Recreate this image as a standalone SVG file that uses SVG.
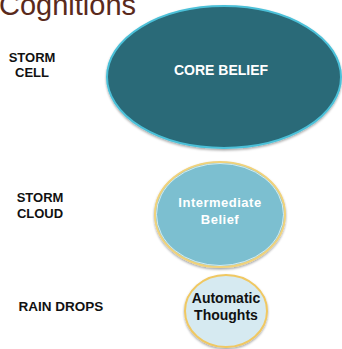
<svg xmlns="http://www.w3.org/2000/svg" width="342" height="349" viewBox="0 0 342 349">
  <style>
    .title { font-family: "Liberation Sans", Arial, sans-serif; font-size: 29px; fill: #5a2a1c; }
    .side { font-family: "Liberation Sans", Arial, sans-serif; font-size: 13px; font-weight: bold; fill: #111; text-anchor: middle; }
    .lbl { font-family: "Liberation Sans", Arial, sans-serif; font-weight: bold; text-anchor: middle; }
  </style>
  <defs>
    <filter id="shadow" x="-10%" y="-10%" width="120%" height="130%">
      <feDropShadow dx="0" dy="1.5" stdDeviation="1.2" flood-color="#000" flood-opacity="0.35"/>
    </filter>
  </defs>

  <rect width="342" height="349" fill="#ffffff"/>

  <!-- heading, running off the top edge -->
  <text class="title" x="-1" y="15">Cognitions</text>

  <!-- level captions -->
  <g id="captions">
    <text class="side" x="32" y="62">STORM</text>
    <text class="side" x="32" y="77">CELL</text>
    <text class="side" x="40" y="202">STORM</text>
    <text class="side" x="40" y="218">CLOUD</text>
    <text class="side" x="61" y="311" style="font-size:13.5px">RAIN DROPS</text>
  </g>

  <g id="connectors"></g>

  <g id="core-belief">
    <ellipse cx="224" cy="77" rx="117" ry="71" fill="#2a6a78" stroke="#4cc0d8" stroke-width="2" filter="url(#shadow)"/>
    <text class="lbl" x="221" y="75" font-size="14" fill="#ffffff">CORE BELIEF</text>
  </g>

  <g id="intermediate-belief">
    <ellipse cx="220" cy="214.5" rx="65" ry="52.5" fill="#7bbfd0" stroke="#f0d27c" stroke-width="2" filter="url(#shadow)"/>
    <ellipse cx="220" cy="214.5" rx="63.5" ry="51" fill="none" stroke="#e8f6f8" stroke-width="0.8"/>
    <text class="lbl" x="220" y="207" font-size="13" letter-spacing="0.5" fill="#ffffff">Intermediate</text>
    <text class="lbl" x="220" y="224" font-size="13" letter-spacing="0.5" fill="#ffffff">Belief</text>
  </g>

  <g id="automatic-thoughts">
    <ellipse cx="226" cy="311" rx="41" ry="36" fill="#d6eaf1" stroke="#f0c862" stroke-width="2" filter="url(#shadow)"/>
    <text class="lbl" x="226" y="303" font-size="14" fill="#111111">Automatic</text>
    <text class="lbl" x="226" y="320" font-size="14" fill="#111111">Thoughts</text>
  </g>
</svg>
